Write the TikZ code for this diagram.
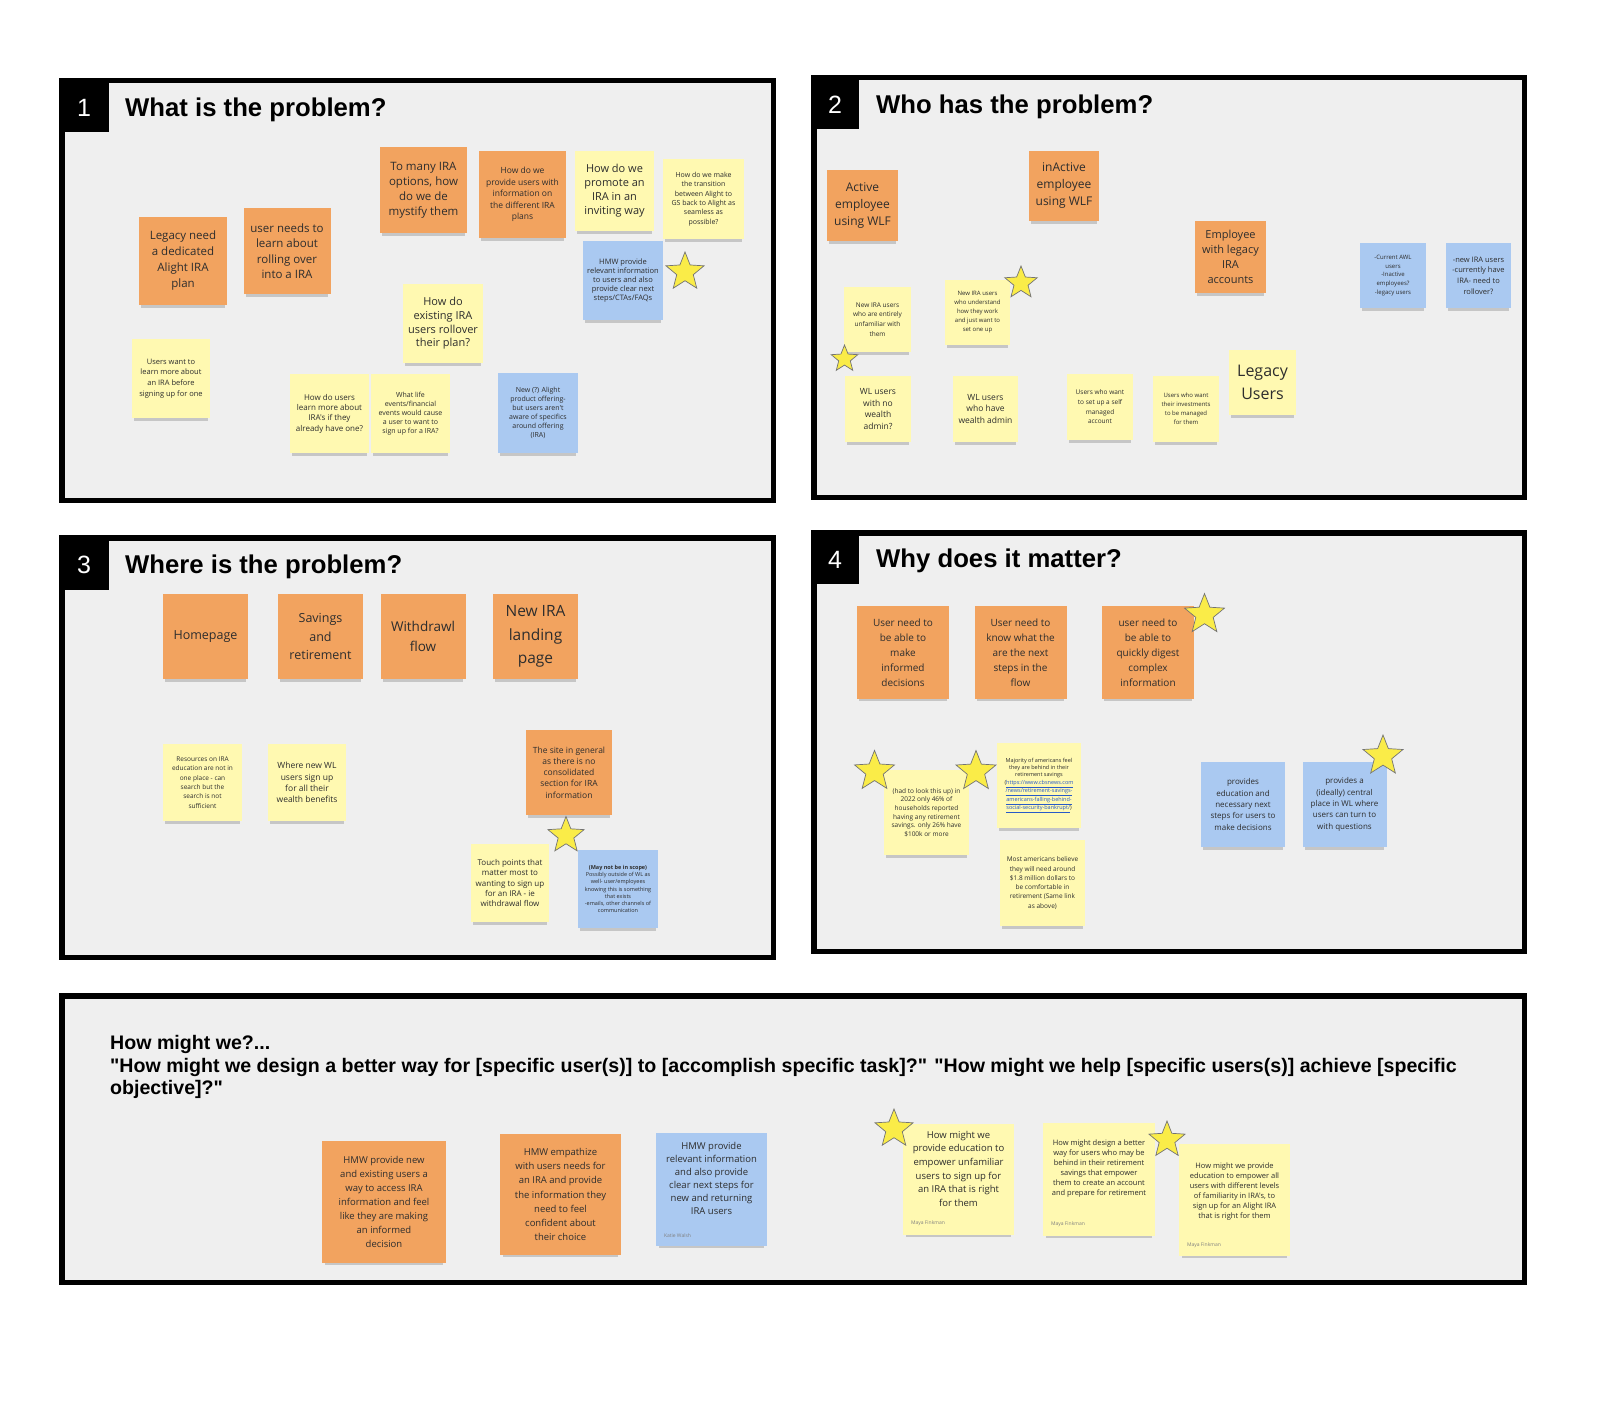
\documentclass[tikz,border=0pt]{standalone}
\usepackage{fontspec}
\setmainfont{Liberation Sans}
\newfontfamily\notafont{Open Sans}
\usetikzlibrary{shapes.geometric, shadows}
\definecolor{ptfondo}{RGB}{239,239,239}
\definecolor{ptnaranja}{RGB}{242,163,95}
\definecolor{ptamarillo}{RGB}{255,249,177}
\definecolor{ptazul}{RGB}{170,201,241}
\definecolor{ptestrella}{RGB}{250,236,72}
\definecolor{pttexto}{RGB}{45,45,45}
\definecolor{ptenlace}{RGB}{40,90,200}

\begin{document}
\begin{tikzpicture}[x=1pt, y=-1pt,
    nota/.style={rectangle, inner sep=2pt, align=center, text=pttexto,
        drop shadow={shadow xshift=0pt, shadow yshift=-5pt, shadow scale=0.95,
            opacity=0.25, fill=black!70}},
    naranja/.style={nota, fill=ptnaranja},
    amarilla/.style={nota, fill=ptamarillo},
    azul/.style={nota, fill=ptazul},
    tam/.style 2 args={font=\notafont\fontsize{#1}{#2}\selectfont},
    caja/.style 2 args={minimum width=#1, minimum height=#2},
    estrella/.style={star, star points=5, star point ratio=2.3, inner sep=0pt,
        fill=ptestrella, draw=black!55, line width=0.7pt, minimum size=#1},
    estrella/.default=40,
    autor/.style={anchor=south west, inner sep=0pt, text=black!50,
        font=\notafont\fontsize{5}{6}\selectfont},
    marco/.style={draw=black, line width=5.5pt, fill=ptfondo},
    numero/.style={text=white, font=\fontsize{25}{30}\selectfont},
    titulo/.style={anchor=west, inner sep=0pt, font=\bfseries\fontsize{25.7}{30}\selectfont}
]

% === Lienzo ===
\useasboundingbox (0,0) rectangle (1617,1412);
\fill[white] (0,0) rectangle (1617,1412);

% === Marcos de los paneles ===
\draw[marco] (61.75,80.75) rectangle (773.25,500.25);
\draw[marco] (813.75,77.75) rectangle (1524.25,497.25);
\draw[marco] (61.75,537.75) rectangle (773.25,957.25);
\draw[marco] (813.75,532.75) rectangle (1524.25,951.25);
\draw[marco] (61.75,995.75) rectangle (1524.25,1282.25);

% Pestañas numeradas
\fill[black] (59,78) rectangle (109,132);
\fill[black] (811,75) rectangle (859,129);
\fill[black] (59,535) rectangle (109,590);
\fill[black] (811,530) rectangle (859,584);
\node[numero] (n1) at (84,108) {1};
\node[numero] (n2) at (835,105) {2};
\node[numero] (n3) at (84,565) {3};
\node[numero] (n4) at (835,560) {4};

% Títulos
\node[titulo] (t1) at (125,110) {What is the problem?};
\node[titulo] (t2) at (876,107) {Who has the problem?};
\node[titulo] (t3) at (125,567) {Where is the problem?};
\node[titulo] (t4) at (876,561) {Why does it matter?};

% === Panel 1 ===
\node[naranja, caja={88}{88}, tam={11.5}{16}] (o1) at (183,261)
    {Legacy need\\a dedicated\\Alight IRA\\plan};
\node[naranja, caja={87}{86}, tam={11.5}{15.5}] (o2) at (287,251)
    {user needs to\\learn about\\rolling over\\into a IRA};
\node[naranja, caja={87}{86}, tam={11.5}{15}] (o3) at (423.5,190)
    {To many IRA\\options, how\\do we de\\mystify them};
\node[naranja, caja={87}{87}, tam={8.5}{11.5}] (o4) at (522.5,194.5)
    {How do we\\provide users with\\information on\\the different IRA\\plans};
\node[amarilla, caja={79}{80}, tam={11}{14}] (y1) at (614.5,191)
    {How do we\\promote an\\IRA in an\\inviting way};
\node[amarilla, caja={81}{80}, tam={7}{9.3}] (y2) at (703.5,199)
    {How do we make\\the transition\\between Alight to\\GS back to Alight as\\seamless as\\possible?};
\node[azul, caja={80}{79}, tam={7.5}{9}] (b1) at (623,280.5)
    {HMW provide\\relevant information\\to users and also\\provide clear next\\steps/CTAs/FAQs};
\node[estrella] (s1) at (685,272) {};
\node[amarilla, caja={80}{79}, tam={11}{13.7}] (y3) at (443,323.5)
    {How do\\existing IRA\\users rollover\\their plan?};
\node[amarilla, caja={78}{79}, tam={7.5}{10.7}] (y4) at (171,378.5)
    {Users want to\\learn more about\\an IRA before\\signing up for one};
\node[amarilla, caja={79}{79}, tam={8}{10.3}] (y5) at (329.5,413.5)
    {How do users\\learn more about\\IRA's if they\\already have one?};
\node[amarilla, caja={79}{79}, tam={7}{9}] (y6) at (410.5,413.5)
    {What life\\events/financial\\events would cause\\a user to want to\\sign up for a IRA?};
\node[azul, caja={80}{80}, tam={7}{9}] (b2) at (538,413)
    {New (?) Alight\\product offering-\\but users aren't\\aware of specifics\\around offering\\(IRA)};

% === Panel 2 ===
\node[naranja, caja={71}{71}, tam={12}{17}] (o5) at (862.5,205.5)
    {Active\\employee\\using WLF};
\node[naranja, caja={70}{70}, tam={12}{17}] (o6) at (1064,186)
    {inActive\\employee\\using WLF};
\node[naranja, caja={71}{72}, tam={11}{15}] (o7) at (1230.5,257)
    {Employee\\with legacy\\IRA\\accounts};
\node[azul, caja={66}{65}, tam={6}{8.7}] (b3) at (1393,275.5)
    {-Current AWL\\users\\-Inactive\\employees?\\-legacy users};
\node[azul, caja={65}{65}, tam={7.5}{10.7}] (b4) at (1478.5,275.5)
    {-new IRA users\\-currently have\\IRA- need to\\rollover?};
\node[amarilla, caja={67}{65}, tam={6.5}{9.7}] (y7) at (877.5,319.5)
    {New IRA users\\who are entirely\\unfamiliar with\\them};
\node[amarilla, caja={65}{65}, tam={6}{9}] (y8) at (977.5,312.5)
    {New IRA users\\who understand\\how they work\\and just want to\\set one up};
\node[estrella=34] (s2) at (1021,283) {};
\node[estrella=28] (s3) at (844.5,359) {};
\node[amarilla, caja={66}{66}, tam={8.5}{11.7}] (y9) at (878,409)
    {WL users\\with no\\wealth\\admin?};
\node[amarilla, caja={65}{66}, tam={8.5}{11.7}] (y10) at (985.5,409)
    {WL users\\who have\\wealth admin};
\node[amarilla, caja={66}{66}, tam={6.5}{9.7}] (y11) at (1100,407)
    {Users who want\\to set up a self\\managed\\account};
\node[amarilla, caja={66}{66}, tam={6}{9}] (y12) at (1186,409)
    {Users who want\\their investments\\to be managed\\for them};
\node[amarilla, caja={67}{65}, tam={16}{22.5}] (y13) at (1262.5,382.5)
    {Legacy\\Users};

% === Panel 3 ===
\node[naranja, caja={85}{85}, tam={12.5}{18.5}] (o8) at (205.5,636.5) {Homepage};
\node[naranja, caja={85}{85}, tam={12.5}{18.5}] (o9) at (320.5,636.5)
    {Savings\\and\\retirement};
\node[naranja, caja={85}{85}, tam={13.5}{20.5}] (o10) at (423,636.5)
    {Withdrawl\\flow};
\node[naranja, caja={85}{85}, tam={15.5}{23.5}] (o11) at (535.5,636.5)
    {New IRA\\landing\\page};
\node[amarilla, caja={79}{77}, tam={6.5}{9.3}] (y14) at (202.5,782.5)
    {Resources on IRA\\education are not in\\one place - can\\search but the\\search is not\\sufficient};
\node[amarilla, caja={78}{77}, tam={8.5}{11.3}] (y15) at (307,782.5)
    {Where new WL\\users sign up\\for all their\\wealth benefits};
\node[naranja, caja={86}{85}, tam={8.5}{11.3}] (o12) at (569,772.5)
    {The site in general\\as there is no\\consolidated\\section for IRA\\information};
\node[amarilla, caja={78}{78}, tam={8}{10.3}] (y16) at (510,883)
    {Touch points that\\matter most to\\wanting to sign up\\for an IRA - ie\\withdrawal flow};
\node[azul, caja={80}{78}, tam={5.5}{7.3}] (b5) at (618,889)
    {\textbf{(May not be in scope)}\\Possibly outside of WL as\\well- user/employees\\knowing this is something\\that exists\\-emails, other channels of\\communication};
\node[estrella=38] (s4) at (566,835.5) {};

% === Panel 4 ===
\node[naranja, caja={92}{93}, tam={10}{15}] (o13) at (903,652.5)
    {User need to\\be able to\\make\\informed\\decisions};
\node[naranja, caja={92}{93}, tam={10}{15}] (o14) at (1020.5,652.5)
    {User need to\\know what the\\are the next\\steps in the\\flow};
\node[naranja, caja={92}{93}, tam={10}{15}] (o15) at (1148,652.5)
    {user need to\\be able to\\quickly digest\\complex\\information};
\node[estrella=42] (s5) at (1204.5,614.6) {};
\node[amarilla, caja={85}{85}, tam={6.5}{8.7}] (y17) at (926.5,812.5)
    {(had to look this up) in\\2022 only 46\% of\\households reported\\having any retirement\\savings. only 26\% have\\\$100k or more};
\node[estrella=42] (s6) at (874.5,771.4) {};
\node[amarilla, caja={84}{85}, tam={5.5}{7.3}] (y18) at (1039,785.5)
    {Majority of americans feel\\they are behind in their\\retirement savings\\(\textcolor{ptenlace}{\underline{https://www.cbsnews.com}}\\\textcolor{ptenlace}{\underline{/news/retirement-savings-}}\\\textcolor{ptenlace}{\underline{americans-falling-behind-}}\\\textcolor{ptenlace}{\underline{social-security-bankrupt/}})};
\node[estrella=42] (s7) at (976,771.5) {};
\node[amarilla, caja={85}{86}, tam={6.5}{9.3}] (y19) at (1042.5,883)
    {Most americans believe\\they will need around\\\$1.8 million dollars to\\be comfortable in\\retirement (Same link\\as above)};
\node[azul, caja={84}{85}, tam={8}{11.3}] (b6) at (1243,804.5)
    {provides\\education and\\necessary next\\steps for users to\\make decisions};
\node[azul, caja={84}{85}, tam={8}{11.3}] (b7) at (1344.5,804.5)
    {provides a\\(ideally) central\\place in WL where\\users can turn to\\with questions};
\node[estrella=42] (s8) at (1383,756) {};

% === Panel 5: How might we ===
\node[anchor=north west, align=left, inner sep=0pt,
    font=\bfseries\fontsize{19.6}{22.7}\selectfont] (hmw) at (110,1035)
    {How might we?...\\
     \textquotedbl How might we design a better way for [specific user(s)] to [accomplish specific task]?\textquotedbl{} \textquotedbl How might we help [specific users(s)] achieve [specific\\
     objective]?\textquotedbl};

\node[naranja, caja={124}{122}, tam={9.5}{14}] (o16) at (384,1202)
    {HMW provide new\\and existing users a\\way to access IRA\\information and feel\\like they are making\\an informed\\decision};
\node[naranja, caja={121}{121}, tam={9.5}{14.3}] (o17) at (560.5,1194.5)
    {HMW empathize\\with users needs for\\an IRA and provide\\the information they\\need to feel\\confident about\\their choice};
\node[azul, caja={111}{113}, tam={9.5}{13}] (b8) at (711.5,1189.5)
    {HMW provide\\relevant information\\and also provide\\clear next steps for\\new and returning\\IRA users\\[10pt]\mbox{}};
\node[autor] (a1) at ([xshift=8pt, yshift=8pt]b8.south west) {Katie Walsh};
\node[amarilla, caja={111}{111}, tam={9.5}{13.7}] (y20) at (958.5,1179.5)
    {How might we\\provide education to\\empower unfamiliar\\users to sign up for\\an IRA that is right\\for them\\[8pt]\mbox{}};
\node[autor] (a2) at ([xshift=8pt, yshift=9pt]y20.south west) {Maya Finkman};
\node[estrella] (s9) at (894,1129) {};
\node[amarilla, caja={112}{113}, tam={7.5}{9.9}] (y21) at (1099,1179.5)
    {How might design a better\\way for users who may be\\behind in their retirement\\savings that empower\\them to create an account\\and prepare for retirement\\[14pt]\mbox{}};
\node[autor] (a3) at ([xshift=8pt, yshift=9pt]y21.south west) {Maya Finkman};
\node[estrella=38] (s10) at (1167,1140) {};
\node[amarilla, caja={111}{112}, tam={7.5}{10}] (y22) at (1234.5,1200)
    {How might we provide\\education to empower all\\users with different levels\\of familiarity in IRA's, to\\sign up for an Alight IRA\\that is right for them\\[8pt]\mbox{}};
\node[autor] (a4) at ([xshift=8pt, yshift=8pt]y22.south west) {Maya Finkman};

\end{tikzpicture}
\end{document}
